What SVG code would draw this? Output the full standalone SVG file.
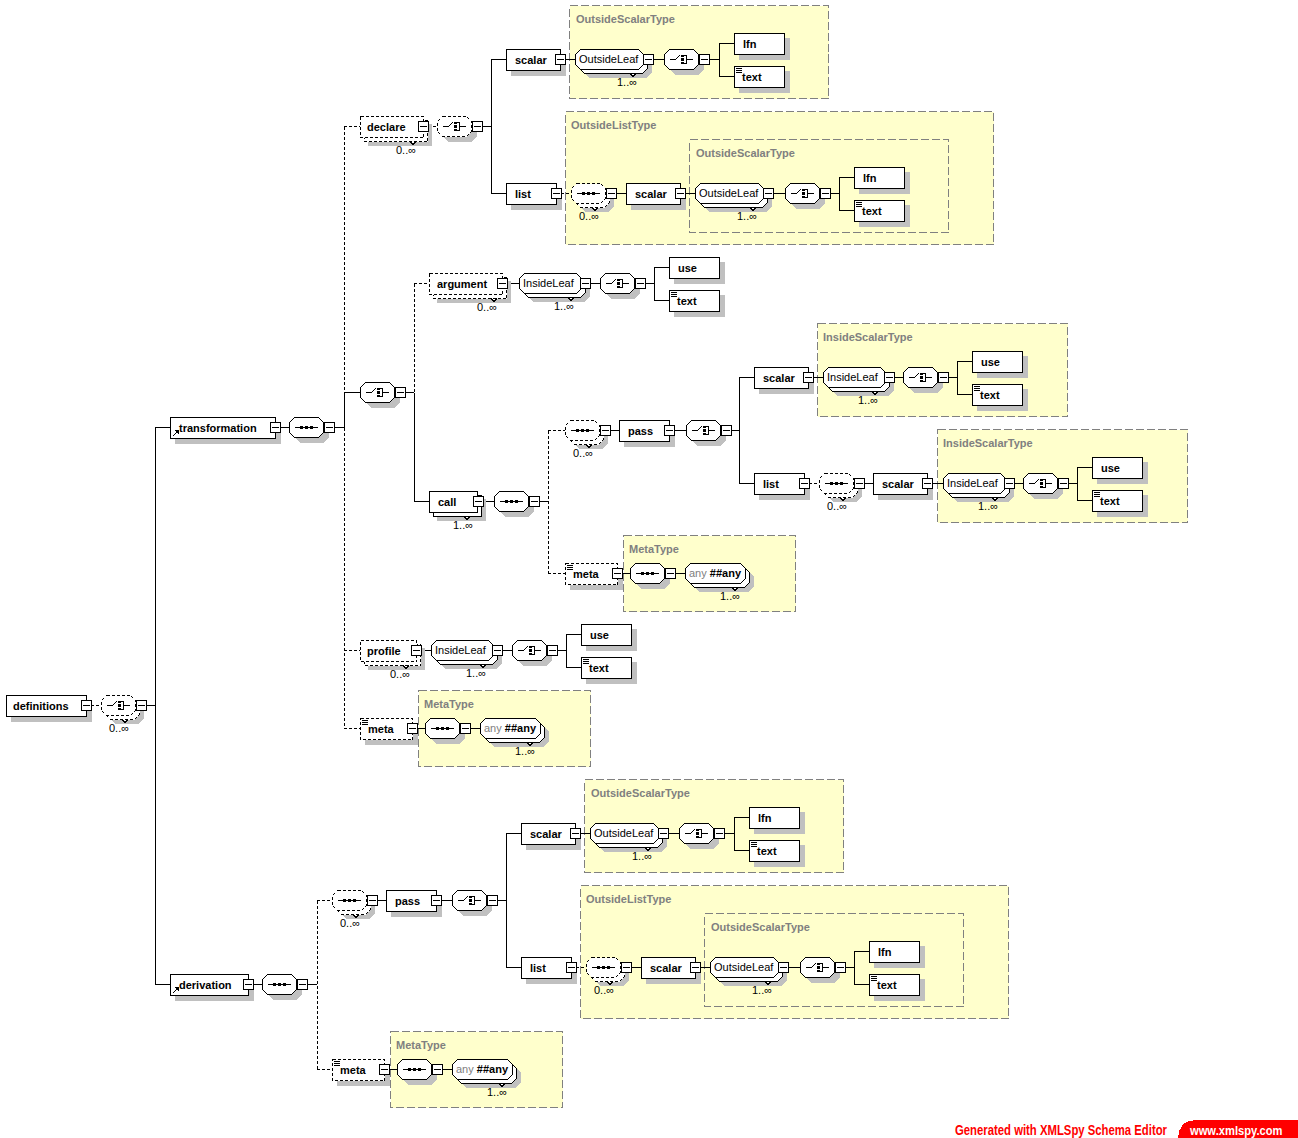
<svg xmlns="http://www.w3.org/2000/svg" width="1298" height="1138" viewBox="0 0 1298 1138" shape-rendering="crispEdges">
<style>
.sh{fill:#c0c0c0}
.bx{fill:#fff;stroke:#000}
.d{stroke-dasharray:3 2}
.ln{fill:none;stroke:#000}
.dl{fill:none;stroke:#000;stroke-dasharray:3 2}
.nt{fill:#fff;stroke:#000}
.nm{font-family:"Liberation Sans",Arial,sans-serif;font-weight:bold;font-size:11px;fill:#000}
.rg{font-family:"Liberation Sans",Arial,sans-serif;font-size:11px;fill:#000}
.oc{font-family:"Liberation Sans",Arial,sans-serif;font-size:11px;text-anchor:middle;fill:#000}
.tt{font-family:"Liberation Sans",Arial,sans-serif;font-weight:bold;font-size:11px;fill:#808080}
.ty{fill:#ffffcc;stroke:#808080;stroke-dasharray:8 3}
</style>
<defs>
<path id="o34" d="M5.5,.5H29.5L34.5,5.5V15.5L29.5,20.5H5.5L.5,15.5V5.5Z"/>
<path id="o68" d="M5.5,.5H63.5L68.5,5.5V15.5L63.5,20.5H5.5L.5,15.5V5.5Z"/>
<path id="o62" d="M5.5,.5H57.5L62.5,5.5V15.5L57.5,20.5H5.5L.5,15.5V5.5Z"/>
<path id="o60" d="M5.5,.5H55.5L60.5,5.5V15.5L55.5,20.5H5.5L.5,15.5V5.5Z"/>
<g id="ex"><rect x=".5" y=".5" width="10" height="10" class="bx"/><path d="M2,5.5H9" class="ln"/></g>
<g id="gSeq"><path d="M6,10.5H29" class="ln"/><rect x="11" y="9" width="3" height="3"/><rect x="16" y="9" width="3" height="3"/><rect x="21" y="9" width="3" height="3"/></g>
<g id="gCh"><path d="M6,10.5H11.5L15.5,6.5" class="ln"/><rect x="17" y="6" width="3" height="2"/><rect x="17" y="9" width="3" height="3"/><rect x="17" y="13" width="3" height="2"/><path d="M20,6.5H22.5V14.5H20M22.5,10.5H29" class="ln"/></g>
<g id="txi"><path d="M2,2.5H8M2,4.5H8M2,6.5H8" class="ln"/></g>
<g id="gri"><path d="M2.5,19.5L6.5,15.5" class="ln"/><path d="M4,13H9V18Z"/></g>
<g id="cS"><use href="#o34" class="sh" x="5" y="5"/><use href="#o34" class="bx"/><use href="#gSeq"/><use href="#ex" x="35" y="5"/></g>
<g id="cSds"><use href="#o34" class="sh" x="8" y="8"/><use href="#o34" class="bx d" x="4" y="4"/><use href="#o34" class="bx d"/><use href="#gSeq"/><path d="M21,24.5L24,27.5L27,24.5" class="nt"/><text x="18" y="37" class="oc">0..∞</text><use href="#ex" x="35" y="5"/></g>
<g id="cC"><use href="#o34" class="sh" x="5" y="5"/><use href="#o34" class="bx"/><use href="#gCh"/><use href="#ex" x="35" y="5"/></g>
<g id="cCd"><use href="#o34" class="sh" x="5" y="5"/><use href="#o34" class="bx d"/><use href="#gCh"/><use href="#ex" x="35" y="5"/></g>
<g id="cCds"><use href="#o34" class="sh" x="8" y="8"/><use href="#o34" class="bx d" x="4" y="4"/><use href="#o34" class="bx d"/><use href="#gCh"/><path d="M21,24.5L24,27.5L27,24.5" class="nt"/><text x="18" y="37" class="oc">0..∞</text><use href="#ex" x="35" y="5"/></g>
<g id="gOL"><use href="#o68" class="sh" x="8" y="8"/><use href="#o68" class="bx" x="4" y="4"/><use href="#o68" class="bx"/><text x="4" y="14" class="rg">OutsideLeaf</text><path d="M55,24.5L58,27.5L61,24.5" class="nt"/><text x="52" y="37" class="oc">1..∞</text><use href="#ex" x="68" y="5"/></g>
<g id="gIL"><use href="#o62" class="sh" x="8" y="8"/><use href="#o62" class="bx" x="4" y="4"/><use href="#o62" class="bx"/><text x="4" y="14" class="rg">InsideLeaf</text><path d="M49,24.5L52,27.5L55,24.5" class="nt"/><text x="45" y="37" class="oc">1..∞</text><use href="#ex" x="61" y="5"/></g>
<g id="gANY"><use href="#o60" class="sh" x="8" y="8"/><use href="#o60" class="bx" x="4" y="4"/><use href="#o60" class="bx"/><text x="4" y="14" class="rg"><tspan fill="#808080">any</tspan><tspan font-weight="bold"> ##any</tspan></text><path d="M47,24.5L50,27.5L53,24.5" class="nt"/><text x="45" y="37" class="oc">1..∞</text></g>
<g id="bLfn"><rect x="5" y="5" width="51" height="22" class="sh"/><rect x=".5" y=".5" width="50" height="21" class="bx"/><text x="9" y="15" class="nm">lfn</text></g>
<g id="bUse"><rect x="5" y="5" width="51" height="22" class="sh"/><rect x=".5" y=".5" width="50" height="21" class="bx"/><text x="9" y="15" class="nm">use</text></g>
<g id="bText"><rect x="5" y="5" width="51" height="22" class="sh"/><rect x=".5" y=".5" width="50" height="21" class="bx"/><use href="#txi"/><text x="8" y="15" class="nm">text</text></g>
<g id="bScalar"><rect x="5" y="5" width="55" height="22" class="sh"/><rect x=".5" y=".5" width="54" height="21" class="bx"/><text x="9" y="15" class="nm">scalar</text><use href="#ex" x="49" y="5"/></g>
<g id="bList"><rect x="5" y="5" width="51" height="22" class="sh"/><rect x=".5" y=".5" width="50" height="21" class="bx"/><text x="9" y="15" class="nm">list</text><use href="#ex" x="45" y="5"/></g>
<g id="bPass"><rect x="5" y="5" width="51" height="22" class="sh"/><rect x=".5" y=".5" width="50" height="21" class="bx"/><text x="9" y="15" class="nm">pass</text><use href="#ex" x="45" y="5"/></g>
<g id="bMeta"><rect x="5" y="5" width="53" height="22" class="sh"/><rect x=".5" y=".5" width="52" height="21" class="bx d"/><use href="#txi"/><text x="8" y="15" class="nm">meta</text><use href="#ex" x="47" y="5"/></g>
</defs>

<g id="types">
<g id="t-OutsideScalarType-1"><rect x="569.5" y="5.5" width="259" height="93" class="ty"/><text x="576" y="23" class="tt">OutsideScalarType</text></g>
<g id="t-OutsideListType-1"><rect x="565.5" y="111.5" width="428" height="133" class="ty"/><text x="571" y="129" class="tt">OutsideListType</text></g>
<g id="t-OutsideScalarType-2"><rect x="689.5" y="139.5" width="259" height="93" class="ty"/><text x="696" y="157" class="tt">OutsideScalarType</text></g>
<g id="t-InsideScalarType-1"><rect x="817.5" y="323.5" width="250" height="93" class="ty"/><text x="823" y="341" class="tt">InsideScalarType</text></g>
<g id="t-InsideScalarType-2"><rect x="937.5" y="429.5" width="250" height="93" class="ty"/><text x="943" y="447" class="tt">InsideScalarType</text></g>
<g id="t-MetaType-1"><rect x="623.5" y="535.5" width="172" height="76" class="ty"/><text x="629" y="553" class="tt">MetaType</text></g>
<g id="t-MetaType-2"><rect x="418.5" y="690.5" width="172" height="76" class="ty"/><text x="424" y="708" class="tt">MetaType</text></g>
<g id="t-OutsideScalarType-3"><rect x="584.5" y="779.5" width="259" height="93" class="ty"/><text x="591" y="797" class="tt">OutsideScalarType</text></g>
<g id="t-OutsideListType-2"><rect x="580.5" y="885.5" width="428" height="133" class="ty"/><text x="586" y="903" class="tt">OutsideListType</text></g>
<g id="t-OutsideScalarType-4"><rect x="704.5" y="913.5" width="259" height="93" class="ty"/><text x="711" y="931" class="tt">OutsideScalarType</text></g>
<g id="t-MetaType-3"><rect x="390.5" y="1031.5" width="172" height="76" class="ty"/><text x="396" y="1049" class="tt">MetaType</text></g>
</g>

<g id="connectors">
<path class="ln" d="M146,705.5H155M155.5,427.5V984.5M155,427.5H170M155,984.5H170M280,427.5H289M334,427.5H344M344.5,392.5V427.5M344,392.5H360M482,126.5H491M491.5,59.5V193.5M491,59.5H506M491,193.5H506M565,59.5H575M653,59.5H664M709,59.5H719M719.5,43.5V76.5M719,43.5H734M719,76.5H734M616,193.5H626M685,193.5H695M773,193.5H785M830,193.5H839M839.5,177.5V210.5M839,177.5H854M839,210.5H854M405,392.5H414M414.5,392.5V501.5M414,501.5H429M507,283.5H519M590,283.5H600M645,283.5H654M654.5,267.5V300.5M654,267.5H669M654,300.5H669M483,501.5H494M539,501.5H548M610,430.5H619M674,430.5H686M731,430.5H739M739.5,377.5V483.5M739,377.5H754M739,483.5H754M813,377.5H823M894,377.5H903M948,377.5H957M957.5,361.5V394.5M957,361.5H972M957,394.5H972M864,483.5H873M932,483.5H943M1014,483.5H1023M1068,483.5H1077M1077.5,467.5V500.5M1077,467.5H1092M1077,500.5H1092M622,573.5H630M675,573.5H685M421,650.5H431M502,650.5H512M557,650.5H566M566.5,634.5V667.5M566,634.5H581M566,667.5H581M417,728.5H425M470,728.5H480M253,984.5H262M307,984.5H317M377,900.5H386M441,900.5H452M497,900.5H506M506.5,833.5V967.5M506,833.5H521M506,967.5H521M580,833.5H590M668,833.5H679M724,833.5H734M734.5,817.5V850.5M734,817.5H749M734,850.5H749M631,967.5H641M700,967.5H710M788,967.5H800M845,967.5H854M854.5,951.5V984.5M854,951.5H869M854,984.5H869M389,1069.5H397M442,1069.5H452"/>
<path class="dl" d="M91,705.5H101M344.5,126.5V392.5M344.5,427.5V728.5M344,126.5H360M344,650.5H360M344,728.5H360M428,126.5H437M561,193.5H571M414.5,283.5V392.5M414,283.5H429M548.5,430.5V573.5M548,430.5H565M548,573.5H565M809,483.5H819M317.5,900.5V1069.5M317,900.5H332M317,1069.5H332M576,967.5H586"/>
</g>

<g id="n-definitions" transform="translate(6,695)"><rect x="5" y="5" width="81" height="22" class="sh"/><rect x=".5" y=".5" width="80" height="21" class="bx"/><text x="7" y="15" class="nm">definitions</text><use href="#ex" x="75" y="5"/></g>
<g id="n-definitions-choice"><use href="#cCds" x="101" y="695"/></g>

<g id="n-transformation" transform="translate(170,417)"><rect x="5" y="5" width="106" height="22" class="sh"/><rect x=".5" y=".5" width="105" height="21" class="bx"/><use href="#gri"/><text x="9" y="15" class="nm">transformation</text><use href="#ex" x="100" y="5"/></g>
<g id="n-transformation-seq"><use href="#cS" x="289" y="417"/></g>

<g id="n-declare" transform="translate(360,116)"><rect x="8" y="8" width="64" height="22" class="sh"/><rect x="4.5" y="4.5" width="63" height="21" class="bx d"/><rect x=".5" y=".5" width="63" height="21" class="bx d"/><text x="7" y="15" class="nm">declare</text><path d="M50,25.5L53,28.5L56,25.5" class="nt"/><text x="46" y="38" class="oc">0..∞</text><use href="#ex" x="58" y="5"/></g>
<g id="n-declare-choice"><use href="#cCd" x="437" y="116"/></g>
<g id="n-declare-scalar"><use href="#bScalar" x="506" y="49"/></g>
<g id="n-declare-scalar-leaf"><use href="#gOL" x="575" y="49"/></g>
<g id="n-declare-scalar-choice"><use href="#cC" x="664" y="49"/></g>
<g id="n-declare-scalar-lfn"><use href="#bLfn" x="734" y="33"/></g>
<g id="n-declare-scalar-text"><use href="#bText" x="734" y="66"/></g>
<g id="n-declare-list"><use href="#bList" x="506" y="183"/></g>
<g id="n-declare-list-seq"><use href="#cSds" x="571" y="183"/></g>
<g id="n-declare-list-scalar"><use href="#bScalar" x="626" y="183"/></g>
<g id="n-declare-list-leaf"><use href="#gOL" x="695" y="183"/></g>
<g id="n-declare-list-choice"><use href="#cC" x="785" y="183"/></g>
<g id="n-declare-list-lfn"><use href="#bLfn" x="854" y="167"/></g>
<g id="n-declare-list-text"><use href="#bText" x="854" y="200"/></g>

<g id="n-transformation-choice"><use href="#cC" x="360" y="382"/></g>
<g id="n-argument" transform="translate(429,273)"><rect x="8" y="8" width="74" height="22" class="sh"/><rect x="4.5" y="4.5" width="73" height="21" class="bx d"/><rect x=".5" y=".5" width="73" height="21" class="bx d"/><text x="8" y="15" class="nm">argument</text><path d="M62,25.5L65,28.5L68,25.5" class="nt"/><text x="58" y="38" class="oc">0..∞</text><use href="#ex" x="68" y="5"/></g>
<g id="n-argument-leaf"><use href="#gIL" x="519" y="273"/></g>
<g id="n-argument-choice"><use href="#cC" x="600" y="273"/></g>
<g id="n-argument-use"><use href="#bUse" x="669" y="257"/></g>
<g id="n-argument-text"><use href="#bText" x="669" y="290"/></g>

<g id="n-call" transform="translate(429,491)"><rect x="8" y="8" width="49" height="22" class="sh"/><rect x="4.5" y="4.5" width="48" height="21" class="bx"/><rect x=".5" y=".5" width="48" height="21" class="bx"/><text x="9" y="15" class="nm">call</text><path d="M35,25.5L38,28.5L41,25.5" class="nt"/><text x="34" y="38" class="oc">1..∞</text><use href="#ex" x="44" y="5"/></g>
<g id="n-call-seq"><use href="#cS" x="494" y="491"/></g>
<g id="n-call-seq2"><use href="#cSds" x="565" y="420"/></g>
<g id="n-call-pass"><use href="#bPass" x="619" y="420"/></g>
<g id="n-call-pass-choice"><use href="#cC" x="686" y="420"/></g>
<g id="n-call-scalar"><use href="#bScalar" x="754" y="367"/></g>
<g id="n-call-scalar-leaf"><use href="#gIL" x="823" y="367"/></g>
<g id="n-call-scalar-choice"><use href="#cC" x="903" y="367"/></g>
<g id="n-call-scalar-use"><use href="#bUse" x="972" y="351"/></g>
<g id="n-call-scalar-text"><use href="#bText" x="972" y="384"/></g>
<g id="n-call-list"><use href="#bList" x="754" y="473"/></g>
<g id="n-call-list-seq"><use href="#cSds" x="819" y="473"/></g>
<g id="n-call-list-scalar"><use href="#bScalar" x="873" y="473"/></g>
<g id="n-call-list-leaf"><use href="#gIL" x="943" y="473"/></g>
<g id="n-call-list-choice"><use href="#cC" x="1023" y="473"/></g>
<g id="n-call-list-use"><use href="#bUse" x="1092" y="457"/></g>
<g id="n-call-list-text"><use href="#bText" x="1092" y="490"/></g>
<g id="n-call-meta"><use href="#bMeta" x="565" y="563"/></g>
<g id="n-call-meta-seq"><use href="#cS" x="630" y="563"/></g>
<g id="n-call-meta-any"><use href="#gANY" x="685" y="563"/></g>

<g id="n-profile" transform="translate(360,640)"><rect x="8" y="8" width="57" height="22" class="sh"/><rect x="4.5" y="4.5" width="56" height="21" class="bx d"/><rect x=".5" y=".5" width="56" height="21" class="bx d"/><text x="7" y="15" class="nm">profile</text><path d="M43,25.5L46,28.5L49,25.5" class="nt"/><text x="40" y="38" class="oc">0..∞</text><use href="#ex" x="51" y="5"/></g>
<g id="n-profile-leaf"><use href="#gIL" x="431" y="640"/></g>
<g id="n-profile-choice"><use href="#cC" x="512" y="640"/></g>
<g id="n-profile-use"><use href="#bUse" x="581" y="624"/></g>
<g id="n-profile-text"><use href="#bText" x="581" y="657"/></g>

<g id="n-transformation-meta"><use href="#bMeta" x="360" y="718"/></g>
<g id="n-transformation-meta-seq"><use href="#cS" x="425" y="718"/></g>
<g id="n-transformation-meta-any"><use href="#gANY" x="480" y="718"/></g>

<g id="n-derivation" transform="translate(170,974)"><rect x="5" y="5" width="79" height="22" class="sh"/><rect x=".5" y=".5" width="78" height="21" class="bx"/><use href="#gri"/><text x="9" y="15" class="nm">derivation</text><use href="#ex" x="73" y="5"/></g>
<g id="n-derivation-seq"><use href="#cS" x="262" y="974"/></g>
<g id="n-derivation-seq2"><use href="#cSds" x="332" y="890"/></g>
<g id="n-derivation-pass"><use href="#bPass" x="386" y="890"/></g>
<g id="n-derivation-pass-choice"><use href="#cC" x="452" y="890"/></g>
<g id="n-derivation-scalar"><use href="#bScalar" x="521" y="823"/></g>
<g id="n-derivation-scalar-leaf"><use href="#gOL" x="590" y="823"/></g>
<g id="n-derivation-scalar-choice"><use href="#cC" x="679" y="823"/></g>
<g id="n-derivation-scalar-lfn"><use href="#bLfn" x="749" y="807"/></g>
<g id="n-derivation-scalar-text"><use href="#bText" x="749" y="840"/></g>
<g id="n-derivation-list"><use href="#bList" x="521" y="957"/></g>
<g id="n-derivation-list-seq"><use href="#cSds" x="586" y="957"/></g>
<g id="n-derivation-list-scalar"><use href="#bScalar" x="641" y="957"/></g>
<g id="n-derivation-list-leaf"><use href="#gOL" x="710" y="957"/></g>
<g id="n-derivation-list-choice"><use href="#cC" x="800" y="957"/></g>
<g id="n-derivation-list-lfn"><use href="#bLfn" x="869" y="941"/></g>
<g id="n-derivation-list-text"><use href="#bText" x="869" y="974"/></g>
<g id="n-derivation-meta"><use href="#bMeta" x="332" y="1059"/></g>
<g id="n-derivation-meta-seq"><use href="#cS" x="397" y="1059"/></g>
<g id="n-derivation-meta-any"><use href="#gANY" x="452" y="1059"/></g>

<g id="footer">
<text transform="translate(955,1135) scale(0.81,1)" fill="#ff0000" style="font-family:'Liberation Sans',Arial,sans-serif;font-weight:bold;font-size:14px">Generated with XMLSpy Schema Editor</text>
<path d="M1178,1138C1179,1126 1184,1120 1196,1120H1298V1138Z" fill="#ff0000"/>
<text transform="translate(1190,1135) scale(0.86,1)" fill="#ffffff" style="font-family:'Liberation Sans',Arial,sans-serif;font-weight:bold;font-size:13px">www.xmlspy.com</text>
</g>
</svg>
